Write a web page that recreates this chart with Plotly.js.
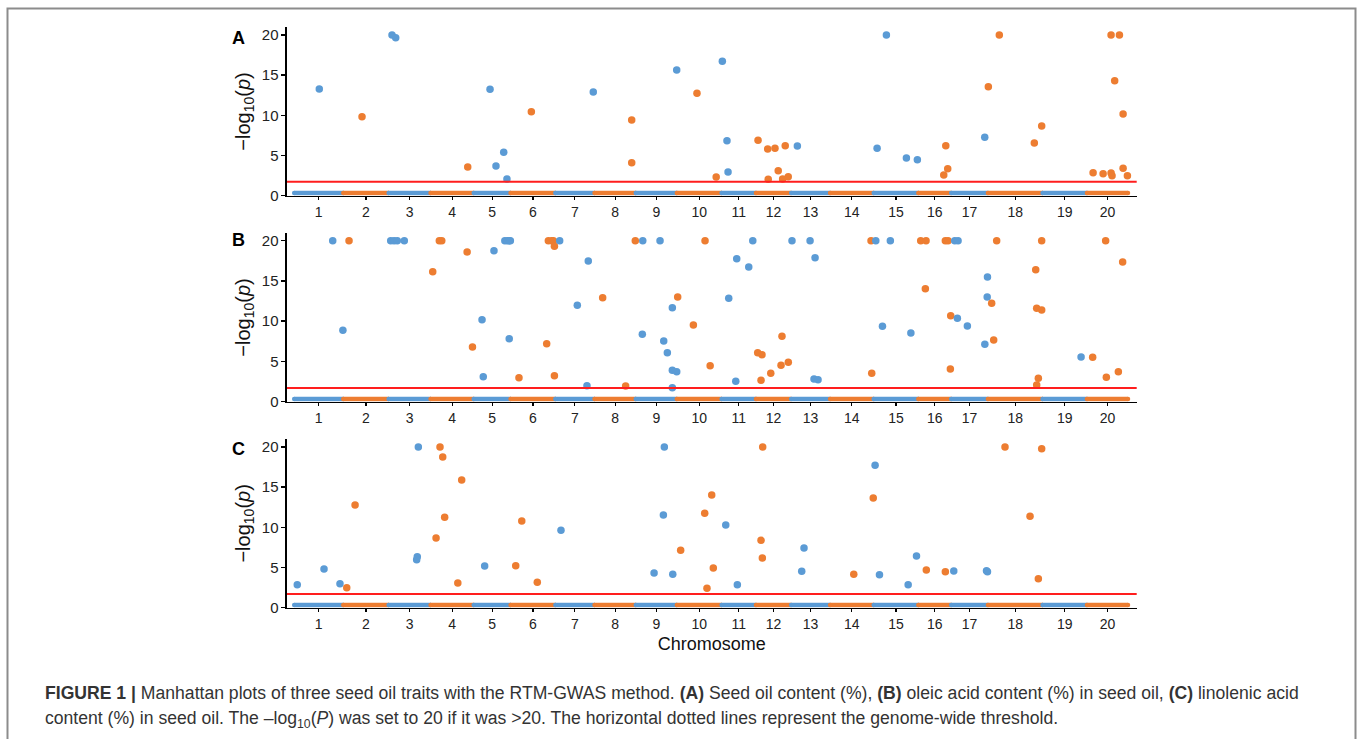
<!DOCTYPE html>
<html>
<head>
<meta charset="utf-8">
<script src="https://cdn.plot.ly/plotly-3.0.1.min.js"></script>
<style>
html,body{margin:0;padding:0;background:#fff;}
#chart{width:1358px;height:739px;}
</style>
</head>
<body>
<div id="chart"></div>
<script>
// ---- Data ----
const chromosomes = ["1","2","3","4","5","6","7","8","9","10","11","12","13","14","15","16","17","18","19","20"];
const chrLen = [55.9, 51.7, 47.8, 49.2, 42.0, 51.0, 44.7, 47.0, 46.8, 51.0, 39.2, 40.1, 44.4, 49.7, 50.9, 37.4, 41.9, 62.3, 50.6, 46.8];
const thresholds = [1.74, 1.70, 1.70];
const bandLevel = 0.35;

// Panel A: seed oil content
const aChr = [1,2,3,3,4,5,5,5,5,6,7,8,8,9,10,10,11,11,11,12,12,12,12,12,12,12,12,13,15,15,15,15,16,16,16,17,18,18,18,18,20,20,20,20,20,20,20,20,20,20];
const aPos = [28.6,21.4,3.9,8.1,42.4,18.6,25.4,34.2,37.9,23.7,43.3,42.4,42.4,46.7,23.0,44.9,0.9,6.2,7.4,2.4,13.4,21.7,33.4,25.4,14.0,30.4,36.8,7.1,3.9,14.5,37.3,49.8,29.0,33.5,31.3,38.3,0.5,13.0,52.9,61.3,7.0,18.4,27.5,28.6,27.5,37.0,31.6,41.2,41.2,46.1];
const aLogP = [13.28,9.83,20,19.67,3.57,13.24,3.70,5.40,2.08,10.45,12.9,9.42,4.11,15.64,12.74,2.33,16.73,6.85,2.95,6.89,5.81,5.90,6.22,3.11,2.04,2.08,2.36,6.19,5.90,20,4.69,4.48,2.58,3.36,6.22,7.27,13.57,20,6.56,8.67,2.86,2.74,2.83,2.49,20,20,14.31,10.17,3.41,2.49];

// Panel B: oleic acid content
const bChr = [1,2,1,3,3,3,3,4,4,4,4,4,5,5,5,5,5,5,5,5,6,6,6,6,6,6,6,7,7,7,7,8,8,8,9,9,9,9,9,9,9,9,9,10,10,10,10,11,11,11,11,11,12,12,12,12,12,12,12,13,13,13,13,13,14,14,15,15,15,15,16,16,16,16,16,16,16,17,17,17,17,17,17,17,18,18,18,18,18,18,18,18,18,19,20,20,20,20,20];
const bPos = [43.9,6.6,55.5,2.4,6.2,9.9,17.9,2.5,10.0,12.8,41.7,47.8,9.5,10.9,23.1,35.5,38.5,40.5,41.8,40.5,9.6,41.2,43.1,46.9,48.8,50.0,50.0,5.0,25.1,37.6,36.1,9.3,35.5,46.5,8.0,7.5,27.7,31.9,36.0,41.7,41.7,46.7,41.7,1.0,32.2,18.9,38.0,8.2,17.3,31.0,35.6,16.2,2.0,6.9,5.8,16.9,29.7,28.6,36.9,1.0,21.6,27.3,26.1,30.7,47.5,46.7,2.4,19.0,10.0,42.4,2.7,8.8,8.0,30.8,33.9,36.9,36.5,4.1,7.9,7.1,18.5,38.4,41.4,41.1,4.3,10.0,6.6,54.5,55.6,61.3,61.3,57.5,55.6,43.9,6.5,21.3,22.1,35.8,40.7];
const bLogP = [20,20,8.87,20,20,20,20,16.15,20,20,18.6,6.8,10.19,3.11,18.76,20,20,20,20,7.83,2.98,7.2,20,20,20,19.3,3.23,20,11.97,17.48,1.99,12.92,1.95,20,20,8.37,20,7.54,6.09,11.68,3.9,3.73,1.74,13.0,20,9.53,4.47,12.84,17.76,16.73,20,2.53,6.09,5.84,2.66,3.53,8.12,4.52,4.89,20,20,17.89,2.82,2.73,3.53,20,20,20,9.37,8.53,20,20,14.04,20,20,10.68,4.06,20,20,10.36,9.4,7.13,15.49,13.0,12.22,20,7.66,16.4,11.6,11.39,20,2.9,2.07,5.55,5.51,20,3.03,3.73,17.35];

// Panel C: linolenic acid content
const cChr = [1,1,1,2,2,3,3,3,4,4,4,4,4,4,5,6,6,6,7,9,9,9,9,10,10,10,10,10,11,11,12,12,12,13,13,14,14,15,15,15,15,16,16,17,17,17,18,18,18,18];
const cPos = [3.5,34.0,52.2,4.0,13.5,33.9,32.0,32.7,10.8,13.9,6.3,16.1,35.5,31.1,12.5,5.9,12.8,30.5,6.5,20.9,31.5,32.6,42.2,4.4,31.8,39.8,41.6,34.4,4.8,18.0,7.7,5.8,7.3,14.7,12.1,27.0,49.2,1.6,6.6,39.3,48.8,9.1,30.8,3.0,40.3,41.4,19.5,48.0,61.3,57.5];
const cLogP = [2.86,4.82,2.99,2.49,12.78,20,5.97,6.35,20,18.76,8.67,11.25,15.89,3.07,5.19,5.23,10.79,3.16,9.63,4.32,11.54,20,4.15,7.14,11.75,14.03,4.94,2.41,10.29,2.86,20,8.39,6.19,7.43,4.53,4.15,13.65,17.72,4.11,2.86,6.43,4.69,4.48,4.57,4.6,4.48,20,11.38,19.79,3.61];

const panelLetters = ["A","B","C"];

// ---- Derived positions ----
const BLUE = "#5B9BD5", ORANGE = "#ED7D31";
const chrStart = [];
let acc = 0;
for (let i = 0; i < chrLen.length; i++) { chrStart.push(acc); acc += chrLen[i]; }
const tickPos = chrLen.map((l, i) => chrStart[i] + l / 2);
const colorOf = c => (c % 2 === 1 ? BLUE : ORANGE);

const panels = [
  {chr: aChr, pos: aPos, lp: aLogP, yr: [0, 20.96], dom: [0.7352, 0.9631]},
  {chr: bChr, pos: bPos, lp: bLogP, yr: [0, 20.92], dom: [0.45643, 0.6843]},
  {chr: cChr, pos: cPos, lp: cLogP, yr: [0, 21.0], dom: [0.17767, 0.40595]}
];
const xRange = [-8.2, 960.3];
const xDom = [0.21134, 0.83704];

const traces = [];
const layout = {
  width: 1358, height: 739,
  margin: {l: 0, r: 0, t: 0, b: 0},
  paper_bgcolor: "#fff", plot_bgcolor: "#fff",
  showlegend: false,
  font: {family: "Liberation Sans, Arial, sans-serif", color: "#1a1a1a"},
  shapes: [], annotations: []
};

panels.forEach((p, k) => {
  const xa = k === 0 ? "x" : "x" + (k + 1);
  const ya = k === 0 ? "y" : "y" + (k + 1);
  // baseline band of non-significant markers
  chrLen.forEach((l, i) => {
    traces.push({
      type: "scatter", mode: "lines+markers", xaxis: xa, yaxis: ya,
      x: [chrStart[i], chrStart[i] + l], y: [bandLevel, bandLevel],
      line: {color: colorOf(i + 1), width: 4.5},
      marker: {color: colorOf(i + 1), size: 4.5},
      hoverinfo: "skip"
    });
  });
  // significant markers
  traces.push({
    type: "scatter", mode: "markers", xaxis: xa, yaxis: ya,
    x: p.chr.map((c, j) => chrStart[c - 1] + p.pos[j]),
    y: p.lp,
    marker: {color: p.chr.map(colorOf), size: 7.5},
    text: p.chr.map(c => "Chr " + c),
    hovertemplate: "%{text}<br>-log10(p)=%{y}<extra></extra>"
  });

  const xKey = k === 0 ? "xaxis" : "xaxis" + (k + 1);
  const yKey = k === 0 ? "yaxis" : "yaxis" + (k + 1);
  layout[xKey] = {
    domain: xDom, anchor: ya, range: xRange,
    tickmode: "array", tickvals: tickPos, ticktext: chromosomes,
    showline: true, linecolor: "#000", linewidth: 1.5,
    ticks: "outside", ticklen: 3, tickwidth: 1.2, tickcolor: "#000",
    showgrid: false, zeroline: false,
    tickfont: {size: 14, color: "#222"}
  };
  if (k === 2) {
    layout[xKey].title = {text: "Chromosome", font: {size: 18, color: "#111"}, standoff: 6};
  }
  layout[yKey] = {
    domain: p.dom, anchor: xa, range: p.yr,
    tickmode: "array", tickvals: [0, 5, 10, 15, 20],
    showline: true, linecolor: "#000", linewidth: 1.5,
    ticks: "outside", ticklen: 4, tickwidth: 1.5, tickcolor: "#000",
    showgrid: false, zeroline: false,
    tickfont: {size: 15, color: "#222"},
    title: {text: "\u2212log<sub>10</sub>(<i>p</i>)", font: {size: 20, color: "#111"}, standoff: 6}
  };
  // threshold line
  layout.shapes.push({
    type: "line", xref: xa + " domain", yref: ya,
    x0: 0, x1: 1, y0: thresholds[k], y1: thresholds[k],
    line: {color: "#FF1E1E", width: 2}, layer: "above"
  });
  // panel letter
  const letterY = [0.94858, 0.67591, 0.39175][k];
  layout.annotations.push({
    xref: "paper", yref: "paper", x: 0.17526, y: letterY,
    xanchor: "center", yanchor: "middle", showarrow: false,
    text: "<b>" + panelLetters[k] + "</b>",
    font: {size: 18, color: "#000", family: "Liberation Sans, Arial, sans-serif"}
  });
});

// figure frame
layout.shapes.push({
  type: "rect", xref: "paper", yref: "paper",
  x0: 0.00552, x1: 0.99816, y0: -0.05, y1: 0.9885,
  line: {color: "#8c8c8c", width: 2}, fillcolor: "rgba(0,0,0,0)"
});

// caption
const capFont = {size: 17.6, color: "#333", family: "Liberation Sans, Arial, sans-serif"};
layout.annotations.push({
  xref: "paper", yref: "paper", x: 0.03166, y: 0.06225,
  xanchor: "left", yanchor: "middle", showarrow: false, align: "left",
  text: "<b>FIGURE 1 |</b> Manhattan plots of three seed oil traits with the RTM-GWAS method. <b>(A)</b> Seed oil content (%), <b>(B)</b> oleic acid content (%) in seed oil, <b>(C)</b> linolenic acid",
  font: capFont
});
layout.annotations.push({
  xref: "paper", yref: "paper", x: 0.03166, y: 0.02706,
  xanchor: "left", yanchor: "middle", showarrow: false, align: "left",
  text: "content (%) in seed oil. The \u2013log<sub>10</sub>(<i>P</i>) was set to 20 if it was &gt;20. The horizontal dotted lines represent the genome-wide threshold.",
  font: capFont
});

Plotly.newPlot("chart", traces, layout, {staticPlot: true, displayModeBar: false});
</script>
</body>
</html>
